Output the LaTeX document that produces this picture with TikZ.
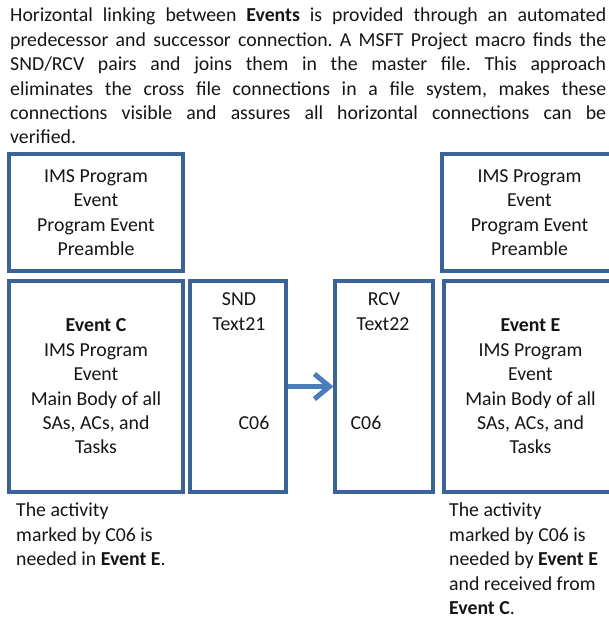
\documentclass[tikz,border=0pt]{standalone}
\usepackage{fontspec}
\setmainfont{Carlito}
\usetikzlibrary{arrows.meta}
\definecolor{boxblue}{HTML}{3C6397}
\definecolor{arrowblue}{HTML}{4A7EBB}
\definecolor{textcol}{HTML}{151515}
\tikzset{
  box/.style={draw=boxblue, line width=3.3pt, inner sep=0pt},
  txt/.style={font=\fontsize{19.8}{24.4}\selectfont\frenchspacing, text=textcol, inner sep=0pt},
  boxtxt/.style={txt, align=center},
  link/.style={draw=arrowblue, line width=5pt,
    -{Straight Barb[length=15pt,width=25pt]}},
}
\begin{document}
\begin{tikzpicture}[x=1pt,y=-1pt]
  \useasboundingbox (0,0) rectangle (608,620);

  % introductory paragraph
  \node[txt, anchor=north west, text width=596pt, align=justify] (intro) at (10,8)
    {Horizontal linking between \textbf{Events} is provided through an automated\linebreak
     predecessor and successor connection. A MSFT Project macro finds the\linebreak
     SND/RCV pairs and joins them in the master file. This approach\linebreak
     eliminates the cross file connections in a file system, makes these\linebreak
     connections visible and assures all horizontal connections can be\linebreak
     verified.};

  % sending event (left)
  \node[box, boxtxt, minimum width=174pt, minimum height=117pt] (preC) at (96,212.5)
    {IMS Program\\Event\\Program Event\\Preamble};
  \node[box, boxtxt, minimum width=174pt, minimum height=211pt] (evC) at (96,386.5)
    {\textbf{Event C}\\IMS Program\\Event\\Main Body of all\\SAs, ACs, and\\Tasks};
  \node[box, minimum width=96pt, minimum height=211pt] (snd) at (238,386.5) {};
  \node[txt, anchor=base] (sndA) at (239,305) {SND};
  \node[txt, anchor=base] (sndB) at (239,330) {Text21};
  \node[txt, anchor=base] (sndC) at (254,429) {C06};

  % receiving event (right)
  \node[box, minimum width=98pt, minimum height=211pt] (rcv) at (384,386.5) {};
  \node[txt, anchor=base] (rcvA) at (384,305) {RCV};
  \node[txt, anchor=base] (rcvB) at (383,330) {Text22};
  \node[txt, anchor=base] (rcvC) at (366,429) {C06};
  \node[box, boxtxt, minimum width=175pt, minimum height=117pt] (preE) at (529.5,212.5)
    {IMS Program\\Event\\Program Event\\Preamble};
  \node[box, boxtxt, minimum width=173pt, minimum height=211pt] (evE) at (530.5,386.5)
    {\textbf{Event E}\\IMS Program\\Event\\Main Body of all\\SAs, ACs, and\\Tasks};

  % SND -> RCV link
  \draw[link] (snd.east) -- (rcv.west);

  % captions
  \node[txt, anchor=north west, align=left] (capC) at (16,503)
    {The activity\\marked by C06 is\\needed in \textbf{Event E}.};
  \node[txt, anchor=north west, align=left] (capE) at (449,503)
    {The activity\\marked by C06 is\\needed by \textbf{Event E}\\and received from\\\textbf{Event C}.};
\end{tikzpicture}
\end{document}
